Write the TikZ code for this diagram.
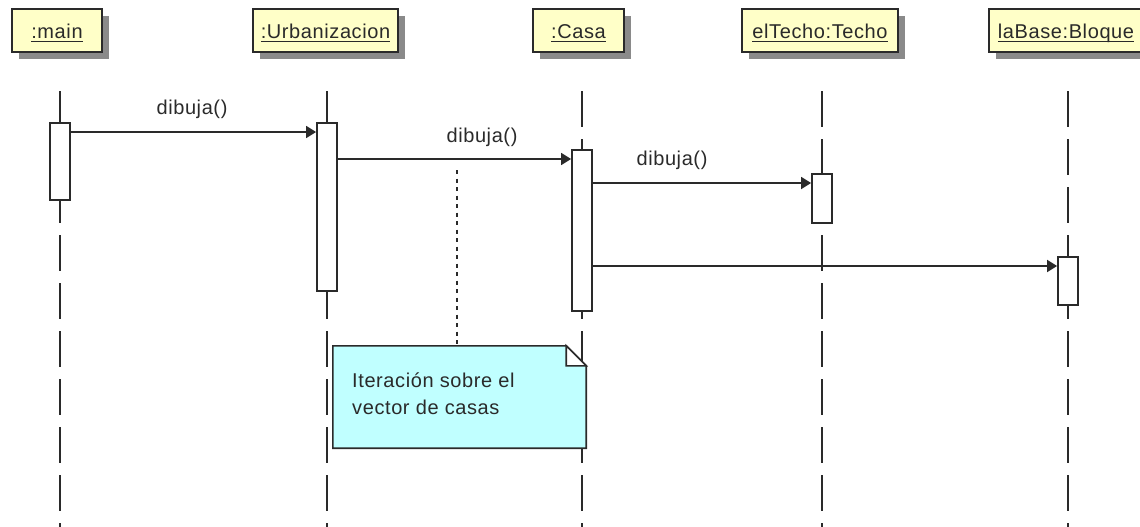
\documentclass[tikz,border=0pt]{standalone}
\usepackage{fontspec}
\setmainfont{Liberation Sans}[LetterSpace=3]
\usetikzlibrary{arrows.meta,shadows,calc}
\definecolor{headfill}{HTML}{FFFFC8}
\definecolor{notefill}{HTML}{C0FFFF}
\definecolor{ink}{HTML}{2A2A2A}
\definecolor{shade}{HTML}{8A8A8A}
% object name, underlined at a fixed distance below the baseline
\newcommand\objname[1]{\setbox0\hbox{#1}\rlap{\rule[-3pt]{\wd0}{1.3pt}}\box0}
\begin{document}
\begin{tikzpicture}[x=1pt,y=-1pt,
  every node/.style={font=\fontsize{20}{27}\selectfont, text=ink},
  head/.style={draw=ink, line width=1.8pt, fill=headfill, minimum height=43pt,
    inner sep=0pt, text height=19pt, text depth=2pt,
    drop shadow={shadow xshift=7pt, shadow yshift=-7pt, fill=shade, opacity=1}},
  life/.style={draw=ink, line width=1.8pt, dash pattern=on 36pt off 12pt},
  act/.style={draw=ink, line width=1.8pt, fill=white, minimum width=20pt,
    inner sep=0pt, anchor=north},
  msg/.style={draw=ink, line width=1.8pt, -{Triangle[length=10pt,width=12pt]}},
  lbl/.style={inner sep=0pt},
  notelink/.style={draw=ink, line width=1.8pt, dash pattern=on 4pt off 4.5pt},
  noteedge/.style={draw=ink, line width=1.6pt}]
\useasboundingbox (0,0) rectangle (1140,527);
\clip (0,0) rectangle (1140,527);

% object headers
\node[head, minimum width=90pt]  (h1) at (57,30.5)   {\objname{:main}};
\node[head, minimum width=145pt] (h2) at (325.5,30.5) {\objname{:Urbanizacion}};
\node[head, minimum width=91pt]  (h3) at (578.5,30.5) {\objname{:Casa}};
\node[head, minimum width=156pt] (h4) at (820,30.5)  {\objname{elTecho:Techo}};
\node[head, minimum width=154pt] (h5) at (1066,30.5) {\objname{laBase:Bloque}};

% lifelines
\coordinate (bot) at (0,527);
\coordinate (t1) at (60,91);
\coordinate (t2) at (327,91);
\coordinate (t3) at (582,91);
\coordinate (t4) at (822,91);
\coordinate (t5) at (1068,91);
\foreach \t in {t1,t2,t3,t4,t5}
  \draw[life] (\t) -- (\t |- bot);

% note attached to the iteration
\node[minimum width=253pt, minimum height=102pt, inner sep=0pt] (note) at (459.5,397) {};
\filldraw[noteedge, fill=notefill] (note.north west) -- ($(note.north east)+(-20,0)$)
  -- ($(note.north east)+(0,20)$) -- (note.south east) -- (note.south west) -- cycle;
\fill[white] ($(note.north east)+(-20,0)$) -- ($(note.north east)+(-20,20)$)
  -- ($(note.north east)+(0,20)$) -- cycle;
\draw[noteedge] ($(note.north east)+(-20,0)$) -- ($(note.north east)+(-20,20)$)
  -- ($(note.north east)+(0,20)$) -- cycle;
\node[anchor=west, align=left, inner sep=0pt] (nt) at (352,393.5)
  {Iteración sobre el\\vector de casas};

% activation bars
\node[act, minimum height=77pt]  (a1) at (60,122)  {};
\node[act, minimum height=168pt] (a2) at (327,122) {};
\node[act, minimum height=161pt] (a3) at (582,149) {};
\node[act, minimum height=49pt]  (a4) at (822,173) {};
\node[act, minimum height=48pt]  (a5) at (1068,256) {};

% messages
\coordinate (m1) at (0,132);
\coordinate (m2) at (0,159);
\coordinate (m3) at (0,183);
\coordinate (m4) at (0,266);
\draw[msg] (a1.east |- m1) -- (a2.west |- m1);
\draw[msg] (a2.east |- m2) -- (a3.west |- m2);
\draw[msg] (a3.east |- m3) -- (a4.west |- m3);
\draw[msg] (a3.east |- m4) -- (a5.west |- m4);
\node[lbl] (l1) at (192,109) {dibuja()};
\node[lbl] (l2) at (482,137) {dibuja()};
\node[lbl] (l3) at (672,160) {dibuja()};

% link from the message to the note
\coordinate (dl) at (457,170);
\draw[notelink] (dl) -- (dl |- note.north);
\end{tikzpicture}
\end{document}
